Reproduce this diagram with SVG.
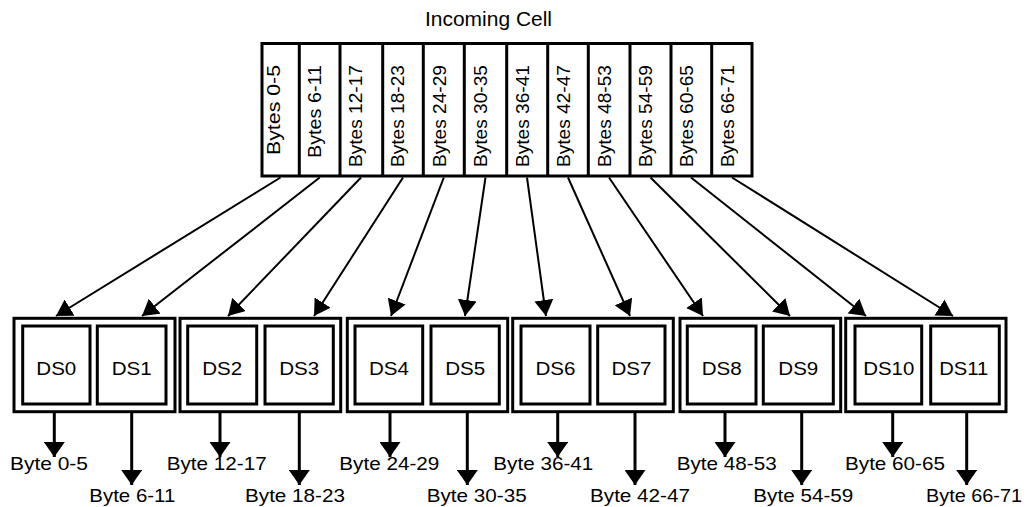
<svg xmlns="http://www.w3.org/2000/svg" width="1028" height="507" viewBox="0 0 1028 507">
<style>
.box{fill:#fff;stroke:#000;stroke-width:3}
.t{font-family:"Liberation Sans",Arial,sans-serif;fill:#000}
.col{font-size:18px}
.ds{font-size:18px;text-anchor:middle}
.lbl{font-size:19px}
.con{stroke:#000;stroke-width:2;fill:none;marker-end:url(#ah)}
.out{stroke:#000;stroke-width:3;fill:none;marker-end:url(#ah2)}
</style>
<defs>
<marker id="ah" markerUnits="userSpaceOnUse" viewBox="0 0 16 19" refX="16" refY="9.5" markerWidth="16" markerHeight="19" orient="auto"><path d="M0,0 L16,9.5 L0,19 z" fill="#000"/></marker>
<marker id="ah2" markerUnits="userSpaceOnUse" viewBox="0 0 15 21" refX="15" refY="10.5" markerWidth="15" markerHeight="21" orient="auto"><path d="M0,0 L15,10.5 L0,21 z" fill="#000"/></marker>
</defs>
<rect width="1028" height="507" fill="#fff"/>
<text class="t" x="425" y="26" font-size="20" textLength="127" lengthAdjust="spacingAndGlyphs">Incoming Cell</text>
<g id="incoming-cell">
<rect class="box" x="262" y="43.5" width="490" height="132.5"/>
<path d="M299.3,43.5V176 M340,43.5V176 M382.7,43.5V176 M423.3,43.5V176 M464.3,43.5V176 M506.7,43.5V176 M547.7,43.5V176 M588.3,43.5V176 M630,43.5V176 M671,43.5V176 M711.7,43.5V176" stroke="#000" stroke-width="3"/>
<g class="t col" text-anchor="end">
<text transform="translate(280,65) rotate(-90)" textLength="90" lengthAdjust="spacingAndGlyphs">Bytes 0-5</text>
<text transform="translate(321,65) rotate(-90)" textLength="93" lengthAdjust="spacingAndGlyphs">Bytes 6-11</text>
<text transform="translate(362.2,65) rotate(-90)" textLength="102" lengthAdjust="spacingAndGlyphs">Bytes 12-17</text>
<text transform="translate(403.8,65) rotate(-90)" textLength="102" lengthAdjust="spacingAndGlyphs">Bytes 18-23</text>
<text transform="translate(445.5,65) rotate(-90)" textLength="102" lengthAdjust="spacingAndGlyphs">Bytes 24-29</text>
<text transform="translate(487,65) rotate(-90)" textLength="102" lengthAdjust="spacingAndGlyphs">Bytes 30-35</text>
<text transform="translate(528.7,65) rotate(-90)" textLength="102" lengthAdjust="spacingAndGlyphs">Bytes 36-41</text>
<text transform="translate(569.5,65) rotate(-90)" textLength="102" lengthAdjust="spacingAndGlyphs">Bytes 42-47</text>
<text transform="translate(610.7,65) rotate(-90)" textLength="102" lengthAdjust="spacingAndGlyphs">Bytes 48-53</text>
<text transform="translate(652,65) rotate(-90)" textLength="102" lengthAdjust="spacingAndGlyphs">Bytes 54-59</text>
<text transform="translate(692.9,65) rotate(-90)" textLength="102" lengthAdjust="spacingAndGlyphs">Bytes 60-65</text>
<text transform="translate(733.5,65) rotate(-90)" textLength="102" lengthAdjust="spacingAndGlyphs">Bytes 66-71</text>
</g>
</g>
<g id="connectors">
<line class="con" x1="280.5" y1="177.5" x2="56" y2="316"/>
<line class="con" x1="319.7" y1="177.5" x2="142" y2="316"/>
<line class="con" x1="361" y1="177.5" x2="228" y2="316"/>
<line class="con" x1="403" y1="177.5" x2="314" y2="316"/>
<line class="con" x1="443.8" y1="177.5" x2="391" y2="316"/>
<line class="con" x1="485.5" y1="177.5" x2="465" y2="316"/>
<line class="con" x1="527" y1="177.5" x2="546" y2="316"/>
<line class="con" x1="568" y1="177.5" x2="630" y2="316"/>
<line class="con" x1="609" y1="177.5" x2="703" y2="316"/>
<line class="con" x1="650.5" y1="177.5" x2="790" y2="316"/>
<line class="con" x1="691" y1="177.5" x2="866" y2="316"/>
<line class="con" x1="732" y1="177.5" x2="953" y2="316"/>
<line class="out" x1="54.3" y1="412" x2="54.3" y2="457"/>
<line class="out" x1="131.7" y1="412" x2="131.7" y2="485"/>
<line class="out" x1="220" y1="412" x2="220" y2="457"/>
<line class="out" x1="299.3" y1="412" x2="299.3" y2="485"/>
<line class="out" x1="390" y1="412" x2="390" y2="457"/>
<line class="out" x1="467.3" y1="412" x2="467.3" y2="485"/>
<line class="out" x1="557.7" y1="412" x2="557.7" y2="457"/>
<line class="out" x1="635" y1="412" x2="635" y2="485"/>
<line class="out" x1="725" y1="412" x2="725" y2="457"/>
<line class="out" x1="801.7" y1="412" x2="801.7" y2="485"/>
<line class="out" x1="892.7" y1="412" x2="892.7" y2="457"/>
<line class="out" x1="966.7" y1="412" x2="966.7" y2="485"/>
</g>
<g id="group-0-1">
<rect class="box" x="14" y="318.3" width="161" height="93.4"/>
<g id="DS0"><rect class="box" x="22.7" y="326" width="67.3" height="78"/><text class="t ds" x="56.3" y="375" textLength="40" lengthAdjust="spacingAndGlyphs">DS0</text></g>
<g id="DS1"><rect class="box" x="97.3" y="326" width="68.7" height="78"/><text class="t ds" x="131.7" y="375" textLength="40" lengthAdjust="spacingAndGlyphs">DS1</text></g>
</g>
<g id="group-2-3">
<rect class="box" x="180" y="318.3" width="160.7" height="93.4"/>
<g id="DS2"><rect class="box" x="187.7" y="326" width="69" height="78"/><text class="t ds" x="222.2" y="375" textLength="40" lengthAdjust="spacingAndGlyphs">DS2</text></g>
<g id="DS3"><rect class="box" x="265" y="326" width="68.3" height="78"/><text class="t ds" x="299.2" y="375" textLength="40" lengthAdjust="spacingAndGlyphs">DS3</text></g>
</g>
<g id="group-4-5">
<rect class="box" x="347.3" y="318.3" width="160.4" height="93.4"/>
<g id="DS4"><rect class="box" x="355" y="326" width="67.7" height="78"/><text class="t ds" x="388.9" y="375" textLength="40" lengthAdjust="spacingAndGlyphs">DS4</text></g>
<g id="DS5"><rect class="box" x="431" y="326" width="68.3" height="78"/><text class="t ds" x="465.2" y="375" textLength="40" lengthAdjust="spacingAndGlyphs">DS5</text></g>
</g>
<g id="group-6-7">
<rect class="box" x="512.7" y="318.3" width="160.6" height="93.4"/>
<g id="DS6"><rect class="box" x="521" y="326" width="69" height="78"/><text class="t ds" x="555.5" y="375" textLength="40" lengthAdjust="spacingAndGlyphs">DS6</text></g>
<g id="DS7"><rect class="box" x="597.7" y="326" width="67.3" height="78"/><text class="t ds" x="631.4" y="375" textLength="40" lengthAdjust="spacingAndGlyphs">DS7</text></g>
</g>
<g id="group-8-9">
<rect class="box" x="680" y="318.3" width="160.7" height="93.4"/>
<g id="DS8"><rect class="box" x="687.3" y="326" width="68.7" height="78"/><text class="t ds" x="721.7" y="375" textLength="40" lengthAdjust="spacingAndGlyphs">DS8</text></g>
<g id="DS9"><rect class="box" x="763.3" y="326" width="70" height="78"/><text class="t ds" x="798.3" y="375" textLength="40" lengthAdjust="spacingAndGlyphs">DS9</text></g>
</g>
<g id="group-10-11">
<rect class="box" x="845.7" y="318.3" width="160.3" height="93.4"/>
<g id="DS10"><rect class="box" x="855" y="326" width="66.7" height="78"/><text class="t ds" x="888.8" y="375" textLength="51" lengthAdjust="spacingAndGlyphs">DS10</text></g>
<g id="DS11"><rect class="box" x="930.7" y="326" width="68.6" height="78"/><text class="t ds" x="963.8" y="375" textLength="49" lengthAdjust="spacingAndGlyphs">DS11</text></g>
</g>
<g id="output-labels" class="t lbl">
<text x="10" y="470" textLength="78" lengthAdjust="spacingAndGlyphs">Byte 0-5</text>
<text x="89.3" y="501.7" textLength="86" lengthAdjust="spacingAndGlyphs">Byte 6-11</text>
<text x="166.7" y="470" textLength="100" lengthAdjust="spacingAndGlyphs">Byte 12-17</text>
<text x="245" y="501.7" textLength="100" lengthAdjust="spacingAndGlyphs">Byte 18-23</text>
<text x="339.3" y="470" textLength="100" lengthAdjust="spacingAndGlyphs">Byte 24-29</text>
<text x="426.7" y="501.7" textLength="100" lengthAdjust="spacingAndGlyphs">Byte 30-35</text>
<text x="493.3" y="470" textLength="100" lengthAdjust="spacingAndGlyphs">Byte 36-41</text>
<text x="590" y="501.7" textLength="100" lengthAdjust="spacingAndGlyphs">Byte 42-47</text>
<text x="676.7" y="470" textLength="100" lengthAdjust="spacingAndGlyphs">Byte 48-53</text>
<text x="753.3" y="501.7" textLength="100" lengthAdjust="spacingAndGlyphs">Byte 54-59</text>
<text x="845" y="470" textLength="100" lengthAdjust="spacingAndGlyphs">Byte 60-65</text>
<text x="926" y="501.7" textLength="96" lengthAdjust="spacingAndGlyphs">Byte 66-71</text>
</g>
</svg>
